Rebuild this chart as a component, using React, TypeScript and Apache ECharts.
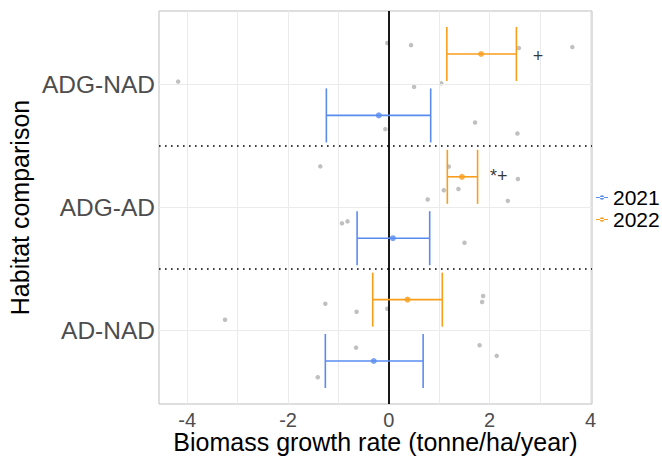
import React, { useEffect, useRef } from "react";
import * as echarts from "echarts";

// y positions: AD-NAD = 1, ADG-AD = 2, ADG-NAD = 3
const categories = ["AD-NAD", "ADG-AD", "ADG-NAD"];
const years = ["2021", "2022"];
const yearColors = ["#5a8cf0", "#f89e1b"];
const yearOffset = [-0.25, 0.25];

const mean2021 = [-0.3, 0.08, -0.2];
const lower2021 = [-1.26, -0.63, -1.24];
const upper2021 = [0.68, 0.81, 0.83];
const mean2022 = [0.37, 1.45, 1.83];
const lower2022 = [-0.32, 1.16, 1.15];
const upper2022 = [1.06, 1.76, 2.53];

// jittered raw observations [x, y]
const rawPoints: number[][] = [
  [-0.03, 3.339], [0.44, 3.322], [2.58, 3.298], [3.64, 3.306], [-4.18, 3.025],
  [0.5, 2.982], [1.04, 3.011], [1.71, 2.692], [-0.07, 2.638], [2.55, 2.603],
  [-1.36, 2.335], [1.19, 2.333], [2.56, 2.232], [1.09, 2.141], [1.38, 2.151],
  [0.77, 2.065], [2.36, 2.054], [-0.93, 1.871], [-0.82, 1.887], [1.5, 1.713],
  [1.87, 1.279], [1.85, 1.23], [-1.26, 1.216], [-0.64, 1.151], [-0.03, 1.176],
  [-3.25, 1.086], [-0.65, 0.859], [1.8, 0.878], [2.14, 0.792], [-1.41, 0.618],
];

const annotationText = ["+", "*+"];
const annotationX = [2.96, 2.18];
const annotationY = [3.233, 2.254];

const xTicks = [-4, -2, 0, 2, 4];
const xGrid = [-4, -3, -2, -1, 0, 1, 2, 3, 4];
const yTicks = [1, 2, 3];
const separators = [1.5, 2.5];

const legendIcon =
  "path://M0,4.4 H12 V5.6 H0 Z M6,5 m-2.2,0 a2.2,2.2 0 1,0 4.4,0 a2.2,2.2 0 1,0 -4.4,0 Z";

export default function App() {
  const ref = useRef<HTMLDivElement>(null);
  useEffect(() => {
    if (!ref.current) return;
    const chart = echarts.init(ref.current, undefined, { renderer: "svg" });
    const means = [mean2021, mean2022];
    const lows = [lower2021, lower2022];
    const highs = [upper2021, upper2022];

    const yearSeries: any[] = [];
    years.forEach((yr, yi) => {
      const barData = categories.map((_, ci) => [
        ci + 1 + yearOffset[yi],
        lows[yi][ci],
        highs[yi][ci],
      ]);
      yearSeries.push({
        name: yr,
        type: "custom",
        z: 5,
        silent: true,
        itemStyle: { color: yearColors[yi] },
        data: barData,
        encode: { x: [1, 2], y: 0 },
        renderItem: (params: any, api: any) => {
          const y = api.value(0);
          const lo = api.coord([api.value(1), y]);
          const hi = api.coord([api.value(2), y]);
          const half = api.size([0, 0.44])[1] / 2;
          const style = { stroke: yearColors[yi], lineWidth: 1.6, fill: "none" };
          return {
            type: "group",
            children: [
              { type: "line", shape: { x1: lo[0], y1: lo[1], x2: hi[0], y2: hi[1] }, style },
              { type: "line", shape: { x1: lo[0], y1: lo[1] - half, x2: lo[0], y2: lo[1] + half }, style },
              { type: "line", shape: { x1: hi[0], y1: hi[1] - half, x2: hi[0], y2: hi[1] + half }, style },
            ],
          };
        },
      });
      yearSeries.push({
        name: yr,
        type: "scatter",
        z: 6,
        silent: true,
        symbol: "circle",
        symbolSize: 6,
        itemStyle: { color: yearColors[yi] },
        data: categories.map((_, ci) => [means[yi][ci], ci + 1 + yearOffset[yi]]),
      });
    });

    const option: any = {
      animation: false,
      backgroundColor: "#ffffff",
      textStyle: { fontFamily: "Liberation Sans, Arial, sans-serif" },
      grid: {
        left: 159,
        right: 70,
        top: 11,
        bottom: 52,
        outerBoundsMode: "none",
        containLabel: false,
        show: true,
        borderColor: "#bdbdbd",
        borderWidth: 1,
        backgroundColor: "#ffffff",
      },
      legend: {
        orient: "vertical",
        left: 596,
        top: 187,
        padding: 0,
        itemGap: 1,
        itemWidth: 12,
        itemHeight: 10,
        icon: legendIcon,
        data: years.map((y, i) => ({ name: y, itemStyle: { color: yearColors[i] } })),
        textStyle: { fontSize: 21, color: "#000" },
        selectedMode: false,
      },
      xAxis: {
        type: "value",
        min: -4.56,
        max: 4.03,
        name: "Biomass growth rate (tonne/ha/year)",
        nameLocation: "middle",
        nameGap: 26,
        nameMoveOverlap: false,
        nameTextStyle: { fontSize: 25, color: "#000", lineHeight: 24 },
        axisLine: { show: false },
        axisTick: { show: false },
        splitLine: { show: false },
        axisLabel: {
          customValues: xTicks,
          fontSize: 20,
          lineHeight: 18,
          color: "#4d4d4d",
          margin: 7,
          formatter: (v: number) => String(Math.round(v)),
        },
      },
      yAxis: {
        type: "value",
        min: 0.4,
        max: 3.6,
        name: "Habitat comparison",
        nameLocation: "middle",
        nameGap: 127,
        nameMoveOverlap: false,
        nameTextStyle: { fontSize: 25, color: "#000" },
        axisLine: { show: false },
        axisTick: { show: false },
        splitLine: { show: false },
        axisLabel: {
          customValues: yTicks,
          fontSize: 24.5,
          color: "#4d4d4d",
          margin: 4,
          formatter: (v: number) => categories[Math.round(v) - 1] ?? "",
        },
      },
      series: [
        {
          name: "grid",
          type: "scatter",
          z: 1,
          silent: true,
          data: [],
          markLine: {
            silent: true,
            symbol: "none",
            label: { show: false },
            lineStyle: { color: "#ebebeb", width: 1, type: "solid" },
            data: [
              ...xGrid.map((v) => ({ xAxis: v })),
              ...yTicks.map((v) => ({ yAxis: v })),
            ],
          },
        },
        {
          name: "raw",
          type: "scatter",
          z: 2,
          silent: true,
          symbolSize: 4.5,
          itemStyle: { color: "#b0b0b0" },
          data: rawPoints,
        },
        {
          name: "separators",
          type: "scatter",
          z: 3,
          silent: true,
          data: [],
          markLine: {
            silent: true,
            symbol: "none",
            label: { show: false },
            data: [
              ...separators.map((v) => ({
                yAxis: v,
                lineStyle: { color: "#000", width: 1.6, type: [1.6, 4.4] },
              })),
              { xAxis: 0, lineStyle: { color: "#000", width: 1.8, type: "solid" } },
            ],
          },
        },
        ...yearSeries,
        {
          name: "annotations",
          type: "scatter",
          z: 7,
          silent: true,
          symbolSize: 0,
          data: annotationText.map((t, i) => ({ value: [annotationX[i], annotationY[i]], name: t })),
          label: {
            show: true,
            position: "inside",
            formatter: (p: any) => p.name,
            fontSize: 18,
            color: "#000",
          },
        },
      ],
    };
    chart.setOption(option);
    return () => chart.dispose();
  }, []);
  return (
    <div
      ref={ref}
      style={{ position: "absolute", left: 0, top: 0, width: 662, height: 456 }}
    />
  );
}
